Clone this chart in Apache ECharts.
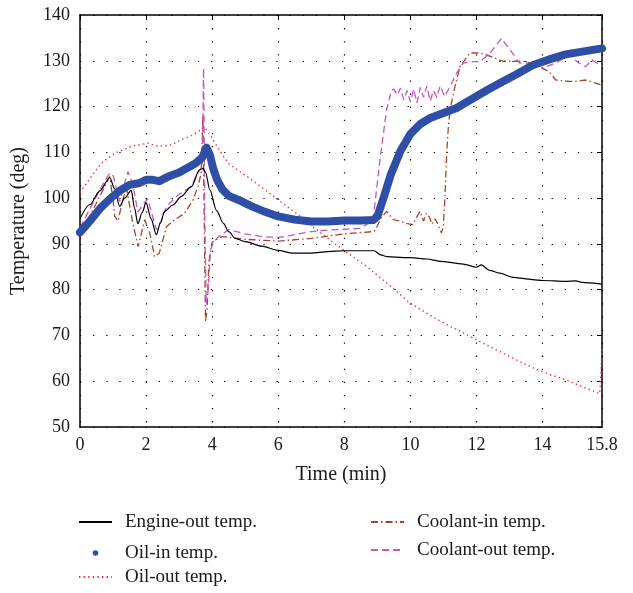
<!DOCTYPE html>
<html>
<head>
<meta charset="utf-8">
<script src="https://cdn.jsdelivr.net/npm/echarts@6/dist/echarts.min.js"></script>
<style>html,body{margin:0;padding:0;background:#fff}#c{width:633px;height:593px}</style>
</head>
<body>
<div id="c"></div>
<script>
// ---- Data (time in min, temperature in deg) ----
const seriesNames = ['Engine-out temp.', 'Oil-in temp.', 'Oil-out temp.', 'Coolant-in temp.', 'Coolant-out temp.'];

const engineT = [0,0.3,0.6,0.9,1.05,1.2,1.35,1.55,1.65,1.75,1.88,2.0,2.15,2.31,2.43,2.56,2.81,3.07,3.37,3.62,3.73,3.8,3.93,4.13,4.34,4.5,4.7,5.0,5.5,6.0,6.4,7.0,7.5,8.0,8.5,8.9,9.1,9.3,9.8,10.0,10.5,10.9,11.6,12.0,12.15,12.4,12.7,13.1,13.7,14.0,14.7,15.0,15.2,15.4,15.8];
const engineV = [95.5,98.6,101.6,104.5,102.0,98.2,100.0,101.7,97.8,94.4,96.8,99.0,95.5,92.0,94.5,97.1,98.5,100.4,102.5,106.2,106.5,105.6,101.8,97.3,94.5,92.7,91.2,90.5,89.5,88.6,88.0,88.0,88.3,88.5,88.5,88.5,87.6,87.2,87.0,87.0,86.7,86.2,85.6,84.9,85.4,84.2,83.6,82.7,82.2,82.0,81.8,81.9,81.6,81.5,81.2];

const oilInT = [0,0.3,0.6,0.9,1.2,1.5,1.8,2.0,2.2,2.4,2.7,3.0,3.3,3.5,3.7,3.83,3.93,4.03,4.15,4.3,4.5,4.8,5.2,5.6,6.0,6.5,7.0,7.5,8.0,8.5,8.87,9.0,9.2,9.4,9.7,10.0,10.3,10.6,11.0,11.4,11.9,12.3,12.7,13.2,13.7,14.2,14.7,15.2,15.8];
const oilInV = [92.5,95.0,97.7,99.8,101.6,102.9,103.3,104.0,104.0,103.7,104.8,105.6,106.8,107.6,108.9,111.0,109.5,106.5,104.0,102.0,100.5,99.6,98.2,97.0,96.0,95.3,94.9,94.9,95.1,95.1,95.2,96.0,100.3,105.0,110.3,114.0,116.2,117.5,118.6,119.7,121.8,123.5,125.1,127.0,129.0,130.3,131.4,132.0,132.7];

const oilOutT = [0,0.34,0.64,1.05,1.55,2.06,2.36,2.76,3.06,3.42,3.66,3.75,3.88,4.03,4.28,4.5,5.2,6.0,6.6,7.0,7.56,7.97,8.67,9.48,9.98,10.69,11.2,11.7,12.2,12.7,13.2,13.72,14.2,14.72,15.2,15.73,15.77,15.8];
const oilOutV = [101.2,104.7,107.6,109.8,111.3,112.0,111.3,111.6,112.7,113.8,115.0,115.5,114.5,112.7,109.8,107.5,104.0,99.6,96.4,94.0,90.9,88.7,85.1,80.3,77.1,74.0,72.0,70.2,68.3,66.5,64.7,62.9,61.5,60.3,58.8,57.3,62.0,67.5];

const coolInT = [0,0.34,0.9,1.0,1.05,1.15,1.25,1.4,1.6,1.76,1.96,2.11,2.26,2.4,2.62,2.87,3.17,3.42,3.57,3.67,3.72,3.76,3.8,3.85,3.9,4.0,4.3,5.0,6.0,7.0,8.0,8.9,8.97,9.1,9.28,9.48,9.68,9.88,10.08,10.2,10.29,10.4,10.49,10.58,10.65,10.75,10.84,10.94,11.0,11.05,11.1,11.15,11.2,11.35,11.5,11.8,12.1,12.3,12.8,13.2,13.5,13.8,14.2,14.4,14.8,15.0,15.3,15.45,15.6,15.8];
const coolInV = [92.3,96.7,104.7,99.6,96.0,95.0,98.2,102.5,94.5,89.4,95.3,92.4,87.2,88.0,93.8,95.3,96.7,99.6,102.5,105.5,118.0,95.0,73.0,76.0,86.0,90.4,91.6,91.0,90.6,91.2,92.2,92.7,93.4,95.5,97.1,95.3,95.0,94.5,94.2,96.0,97.1,95.0,96.7,95.8,94.3,95.5,94.2,92.4,94.0,101.0,110.0,115.6,119.3,124.4,128.7,131.7,131.7,131.3,129.9,129.9,129.8,129.1,127.6,125.8,125.5,125.5,125.8,125.5,125.1,124.7];

const coolOutT = [0,0.34,0.65,0.9,1.0,1.2,1.45,1.6,1.75,1.9,2.05,2.31,2.45,2.62,2.97,3.37,3.57,3.7,3.74,3.78,3.82,3.88,3.95,4.05,4.2,4.5,5.0,5.5,6.0,6.5,7.0,7.5,8.0,8.5,8.87,9.08,9.28,9.43,9.5,9.6,9.7,9.8,9.9,10.0,10.1,10.2,10.3,10.4,10.5,10.6,10.7,10.8,10.9,11.04,11.2,11.4,11.6,11.9,12.1,12.4,12.76,12.9,13.16,13.3,13.8,14.1,14.4,14.8,15.1,15.3,15.5,15.8];
const coolOutV = [93.5,98.2,102.5,105.5,105.0,99.3,105.8,103.0,97.0,98.5,99.8,93.1,95.0,98.2,100.7,102.5,105.5,106.9,128.4,95.0,77.0,80.0,88.7,90.5,91.6,93.1,92.2,91.6,91.4,92.0,92.7,93.0,93.2,93.4,95.2,108.4,119.3,123.6,123.8,122.5,124.0,121.5,123.5,121.0,123.8,120.8,124.2,122.0,124.5,121.2,123.5,122.0,124.5,122.2,124.4,127.3,129.5,129.8,129.8,131.6,134.9,133.5,131.0,129.5,129.5,128.7,129.5,131.3,129.5,128.7,130.2,128.7];

const xTicks = {min: 0, max: 15.8, interval: 2};
const yTicks = {min: 50, max: 140, interval: 10};

// ---- Chart ----
const zip = (t, v) => t.map((x, i) => [x, v[i]]);
const FONT = 'Liberation Serif';
const chart = echarts.init(document.getElementById('c'));

const gridLine = {show: true, lineStyle: {color: '#000', width: 1.2, type: [1.3, 11.8]}};
const textBase = {fontFamily: FONT, fontSize: 18, color: '#1a1a1a'};
const titleText = {fontFamily: FONT, fontSize: 20, color: '#1a1a1a'};

function legendAt(name, left, top, extra) {
  return Object.assign({
    data: [name], left: left, top: top, orient: 'vertical',
    itemWidth: 33, itemHeight: 14, padding: 0, selectedMode: false,
    itemStyle: {opacity: 0},
    textStyle: {fontFamily: FONT, fontSize: 19, color: '#1a1a1a', padding: [0, 0, 0, 8], lineHeight: 20}
  }, extra || {});
}

chart.setOption({
  animation: false,
  backgroundColor: '#fff',
  grid: {left: 80, right: 31, top: 15, bottom: 166, containLabel: false},
  xAxis: [
    {type: 'value', min: xTicks.min, max: xTicks.max, interval: xTicks.interval,
     name: 'Time (min)', nameLocation: 'middle', nameGap: 38, nameTextStyle: titleText,
     axisLine: {show: true, onZero: false, lineStyle: {color: '#000', width: 1.5}},
     axisTick: {show: false},
     axisLabel: Object.assign({}, textBase, {margin: 9}),
     splitLine: gridLine},
    {type: 'value', position: 'top', min: xTicks.min, max: xTicks.max, interval: xTicks.interval,
     axisLine: {show: true, onZero: false, lineStyle: {color: '#000', width: 1.5}},
     axisTick: {show: true, inside: true, length: 5, lineStyle: {color: '#000'}},
     axisLabel: {show: false}, splitLine: {show: false}}
  ],
  yAxis: [
    {type: 'value', min: yTicks.min, max: yTicks.max, interval: yTicks.interval,
     name: 'Temperature (deg)', nameLocation: 'middle', nameGap: 51, nameTextStyle: titleText,
     axisLine: {show: true, onZero: false, lineStyle: {color: '#000', width: 1.5}},
     axisTick: {show: false},
     axisLabel: Object.assign({}, textBase, {margin: 10}),
     splitLine: gridLine},
    {type: 'value', position: 'right', min: yTicks.min, max: yTicks.max, interval: yTicks.interval,
     axisLine: {show: true, onZero: false, lineStyle: {color: '#000', width: 1.5}},
     axisTick: {show: true, inside: true, length: 5, lineStyle: {color: '#000'}},
     axisLabel: {show: false}, splitLine: {show: false}}
  ],
  legend: [
    legendAt(seriesNames[0], 78, 512),
    legendAt(seriesNames[1], 78, 543, {itemHeight: 7, itemStyle: {opacity: 1}, lineStyle: {opacity: 0}}),
    legendAt(seriesNames[2], 78, 567),
    legendAt(seriesNames[3], 370, 512),
    legendAt(seriesNames[4], 370, 540)
  ],
  series: [
    {name: seriesNames[2], type: 'line', symbol: 'none', data: zip(oilOutT, oilOutV), z: 2,
     color: '#ff2a2a', lineStyle: {color: '#ff2a2a', width: 1.4, type: [1.4, 3.2]}},
    {name: seriesNames[3], type: 'line', symbol: 'none', data: zip(coolInT, coolInV), z: 3,
     color: '#a8442c', lineStyle: {color: '#a8442c', width: 1.3, type: [7, 3, 1.5, 3]}},
    {name: seriesNames[4], type: 'line', symbol: 'none', data: zip(coolOutT, coolOutV), z: 4,
     color: '#c456bc', lineStyle: {color: '#c456bc', width: 1.3, type: [7, 4]}},
    {name: seriesNames[0], type: 'line', symbol: 'none', data: zip(engineT, engineV), z: 5,
     smooth: 0.3, smoothMonotone: 'x',
     color: '#000', lineStyle: {color: '#000', width: 1.2}},
    {name: seriesNames[1], type: 'line', symbol: 'none', data: zip(oilInT, oilInV), z: 6,
     color: '#2f4fa6', itemStyle: {color: '#2f4fa6'},
     lineStyle: {color: '#2f4fa6', width: 8, cap: 'round', join: 'round'}}
  ]
});
</script>
</body>
</html>
